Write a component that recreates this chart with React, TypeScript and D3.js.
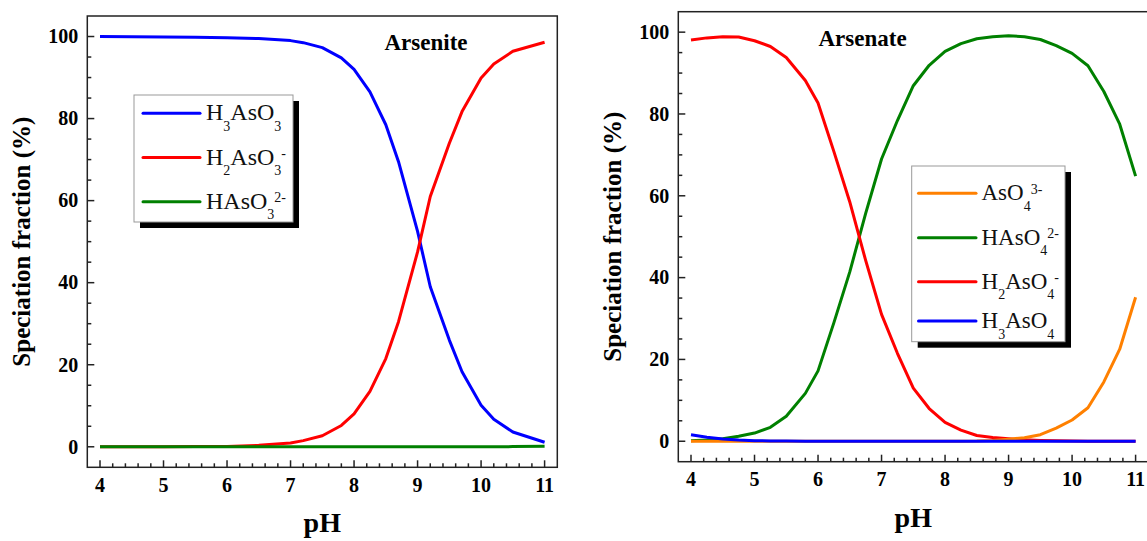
import React, { useEffect, useRef } from 'react';
import * as d3 from 'd3';

// arsenite speciation
const phArsenite = [4, 4.5, 5, 5.5, 6, 6.5, 7, 7.2, 7.5, 7.8, 8, 8.25, 8.5, 8.7, 9, 9.2, 9.5, 9.7, 10, 10.2, 10.5, 11];
const h3aso3 = [100, 99.95, 99.9, 99.85, 99.7, 99.5, 99, 98.5, 97.3, 94.8, 92, 86.5, 78.5, 69.5, 52.5, 39, 26, 18.3, 10.1, 6.7, 3.6, 1.1];
const h2aso3 = [0, 0.01, 0.02, 0.05, 0.1, 0.35, 0.9, 1.5, 2.7, 5.2, 8, 13.5, 21.5, 30.5, 47.5, 61, 74, 81.7, 89.9, 93.3, 96.4, 98.6];
const haso3 = [0, 0, 0, 0, 0, 0, 0, 0, 0, 0, 0, 0, 0, 0, 0, 0, 0, 0, 0.01, 0.02, 0.04, 0.15];

// arsenate speciation
const phArsenate = [4, 4.25, 4.5, 4.75, 5, 5.25, 5.5, 5.8, 6, 6.25, 6.5, 6.75, 7, 7.25, 7.5, 7.75, 8, 8.25, 8.5, 8.75, 9, 9.25, 9.5, 9.75, 10, 10.25, 10.5, 10.75, 11];
const aso4 = [0, 0, 0, 0, 0, 0, 0, 0, 0, 0, 0, 0, 0, 0, 0, 0, 0, 0.02, 0.05, 0.2, 0.5, 0.85, 1.6, 3.2, 5.2, 8.2, 14.5, 22.5, 35.2];
const haso4 = [0.1, 0.3, 0.6, 1.2, 2.0, 3.4, 6.1, 11.7, 17.2, 29, 41.4, 55.7, 69, 78.4, 86.9, 91.9, 95.3, 97.2, 98.4, 98.9, 99.1, 98.9, 98.2, 96.7, 94.8, 91.8, 85.5, 77.5, 64.8];
const h2aso4 = [98.1, 98.6, 98.9, 98.8, 97.9, 96.5, 93.8, 88.2, 82.7, 70.8, 58.5, 44.2, 31, 21.5, 13, 8, 4.6, 2.7, 1.4, 0.9, 0.6, 0.35, 0.2, 0.1, 0.05, 0.02, 0.01, 0, 0];
const h3aso4 = [1.6, 1.0, 0.55, 0.3, 0.15, 0.08, 0.04, 0.02, 0.01, 0, 0, 0, 0, 0, 0, 0, 0, 0, 0, 0, 0, 0, 0, 0, 0, 0, 0, 0, 0];

const xTicks = [4, 5, 6, 7, 8, 9, 10, 11];
const yTicks = [0, 20, 40, 60, 80, 100];

// legend label pieces: [text, kind] kind: n = normal, b = sub, p = sup
type Piece = [string, 'n' | 'b' | 'p'];
interface Series { values: number[]; color: string; label: Piece[]; }

const FONT = '"Liberation Serif", "Times New Roman", serif';

interface PanelOpts {
  left: number; top: number; bottom: number;
  title: string; titleX: number; titleY: number;
  ph: number[]; series: Series[]; drawOrder: number[];
  legend: { x: number; y: number; w: number; h: number; lineX0: number; lineX1: number; textX: number; rows: number[]; fs: number };
}

function drawPanel(svg: d3.Selection<SVGSVGElement, unknown, null, undefined>, o: PanelOpts) {
  const x = d3.scaleLinear().domain([3.8, 11.2]).range([o.left, o.left + 470]);
  const y = d3.scaleLinear().domain([-5, 105]).range([o.bottom, o.top]);
  const g = svg.append('g');

  const line = d3.line<[number, number]>().x(d => x(d[0])).y(d => y(d[1]));
  o.drawOrder.forEach(i => {
    const s = o.series[i];
    g.append('path')
      .attr('d', line(o.ph.map((p, k) => [p, s.values[k]] as [number, number])))
      .attr('fill', 'none').attr('stroke', s.color).attr('stroke-width', 3)
      .attr('stroke-linejoin', 'round');
  });

  // frame
  g.append('rect').attr('x', x(3.8)).attr('y', o.top)
    .attr('width', x(11.2) - x(3.8)).attr('height', o.bottom - o.top)
    .attr('fill', 'none').attr('stroke', '#222').attr('stroke-width', 1.5);

  // x ticks (inward)
  d3.range(4, 11.001, 0.2).forEach(v => {
    const major = Math.abs(v - Math.round(v)) < 1e-6;
    g.append('line').attr('x1', x(v)).attr('x2', x(v))
      .attr('y1', o.bottom).attr('y2', o.bottom - (major ? 7 : 4))
      .attr('stroke', '#222').attr('stroke-width', 1.5);
  });
  xTicks.forEach(v => {
    g.append('text').attr('x', x(v)).attr('y', o.bottom + 24.5)
      .attr('text-anchor', 'middle').attr('font-family', FONT)
      .attr('font-weight', 'bold').attr('font-size', 20).text(v);
  });
  // y ticks
  d3.range(0, 100.1, 5).forEach(v => {
    const major = v % 20 === 0;
    g.append('line').attr('x1', x(3.8)).attr('x2', x(3.8) + (major ? 7 : 4))
      .attr('y1', y(v)).attr('y2', y(v))
      .attr('stroke', '#222').attr('stroke-width', 1.5);
  });
  yTicks.forEach(v => {
    g.append('text').attr('x', x(3.8) - 9).attr('y', y(v) + 6.8)
      .attr('text-anchor', 'end').attr('font-family', FONT)
      .attr('font-weight', 'bold').attr('font-size', 20).text(v);
  });

  // axis titles
  g.append('text').attr('x', (x(3.8) + x(11.2)) / 2).attr('y', o.bottom + 65)
    .attr('text-anchor', 'middle').attr('font-family', FONT)
    .attr('font-weight', 'bold').attr('font-size', 28).text('pH');
  g.append('text')
    .attr('transform', `translate(${x(3.8) - 57},${(o.top + o.bottom) / 2}) rotate(-90)`)
    .attr('text-anchor', 'middle').attr('font-family', FONT)
    .attr('font-weight', 'bold').attr('font-size', 25).text('Speciation fraction (%)');

  g.append('text').attr('x', o.titleX).attr('y', o.titleY)
    .attr('font-family', FONT).attr('font-weight', 'bold').attr('font-size', 23)
    .text(o.title);

  // legend
  const L = o.legend;
  g.append('rect').attr('x', L.x + 6).attr('y', L.y + 6).attr('width', L.w).attr('height', L.h).attr('fill', '#000');
  g.append('rect').attr('x', L.x).attr('y', L.y).attr('width', L.w).attr('height', L.h)
    .attr('fill', '#fff').attr('stroke', '#999').attr('stroke-width', 1);
  o.series.forEach((s, i) => {
    const ry = L.rows[i];
    g.append('line').attr('x1', L.lineX0).attr('x2', L.lineX1).attr('y1', ry).attr('y2', ry)
      .attr('stroke', s.color).attr('stroke-width', 3).attr('stroke-linecap', 'round');
    const t = g.append('text').attr('x', L.textX).attr('y', ry + 7)
      .attr('font-family', FONT).attr('font-size', L.fs).attr('fill', '#111');
    let shift = 0;
    s.label.forEach(([str, kind]) => {
      const target = kind === 'b' ? 10.5 : kind === 'p' ? -6.5 : 0;
      t.append('tspan').attr('dy', target - shift)
        .attr('font-size', kind === 'n' ? L.fs : 14).text(str);
      shift = target;
    });
  });
}

const App: React.FC = () => {
  const svgRef = useRef<SVGSVGElement>(null);

  useEffect(() => {
    if (!svgRef.current) return;
    const svg = d3.select(svgRef.current);
    svg.selectAll('*').remove();

    drawPanel(svg, {
      left: 87.3, top: 16, bottom: 467.3,
      title: 'Arsenite', titleX: 384.5, titleY: 50,
      ph: phArsenite,
      series: [
        { values: h3aso3, color: '#0000ff', label: [['H', 'n'], ['3', 'b'], ['AsO', 'n'], ['3', 'b']] },
        { values: h2aso3, color: '#ff0000', label: [['H', 'n'], ['2', 'b'], ['AsO', 'n'], ['3', 'b'], ['-', 'p']] },
        { values: haso3, color: '#008000', label: [['HAsO', 'n'], ['3', 'b'], ['2-', 'p']] },
      ],
      drawOrder: [0, 1, 2],
      legend: { x: 134, y: 95, w: 159, h: 127, lineX0: 143, lineX1: 200, textX: 206, rows: [113.3, 157.5, 201.7], fs: 24 },
    });

    drawPanel(svg, {
      left: 678.3, top: 11.7, bottom: 461.7,
      title: 'Arsenate', titleX: 818.5, titleY: 46,
      ph: phArsenate,
      series: [
        { values: aso4, color: '#ff8000', label: [['AsO', 'n'], ['4', 'b'], ['3-', 'p']] },
        { values: haso4, color: '#008000', label: [['HAsO', 'n'], ['4', 'b'], ['2-', 'p']] },
        { values: h2aso4, color: '#ff0000', label: [['H', 'n'], ['2', 'b'], ['AsO', 'n'], ['4', 'b'], ['-', 'p']] },
        { values: h3aso4, color: '#0000ff', label: [['H', 'n'], ['3', 'b'], ['AsO', 'n'], ['4', 'b']] },
      ],
      drawOrder: [1, 2, 0, 3],
      legend: { x: 911.7, y: 166, w: 153.3, h: 175.7, lineX0: 918.5, lineX1: 976, textX: 981.5, rows: [193.3, 237.7, 281.7, 321], fs: 23 },
    });
  }, []);

  return (
    <svg ref={svgRef} width={1147} height={541}
      style={{ position: 'fixed', left: 0, top: 0, background: '#fff' }} />
  );
};

export default App;
